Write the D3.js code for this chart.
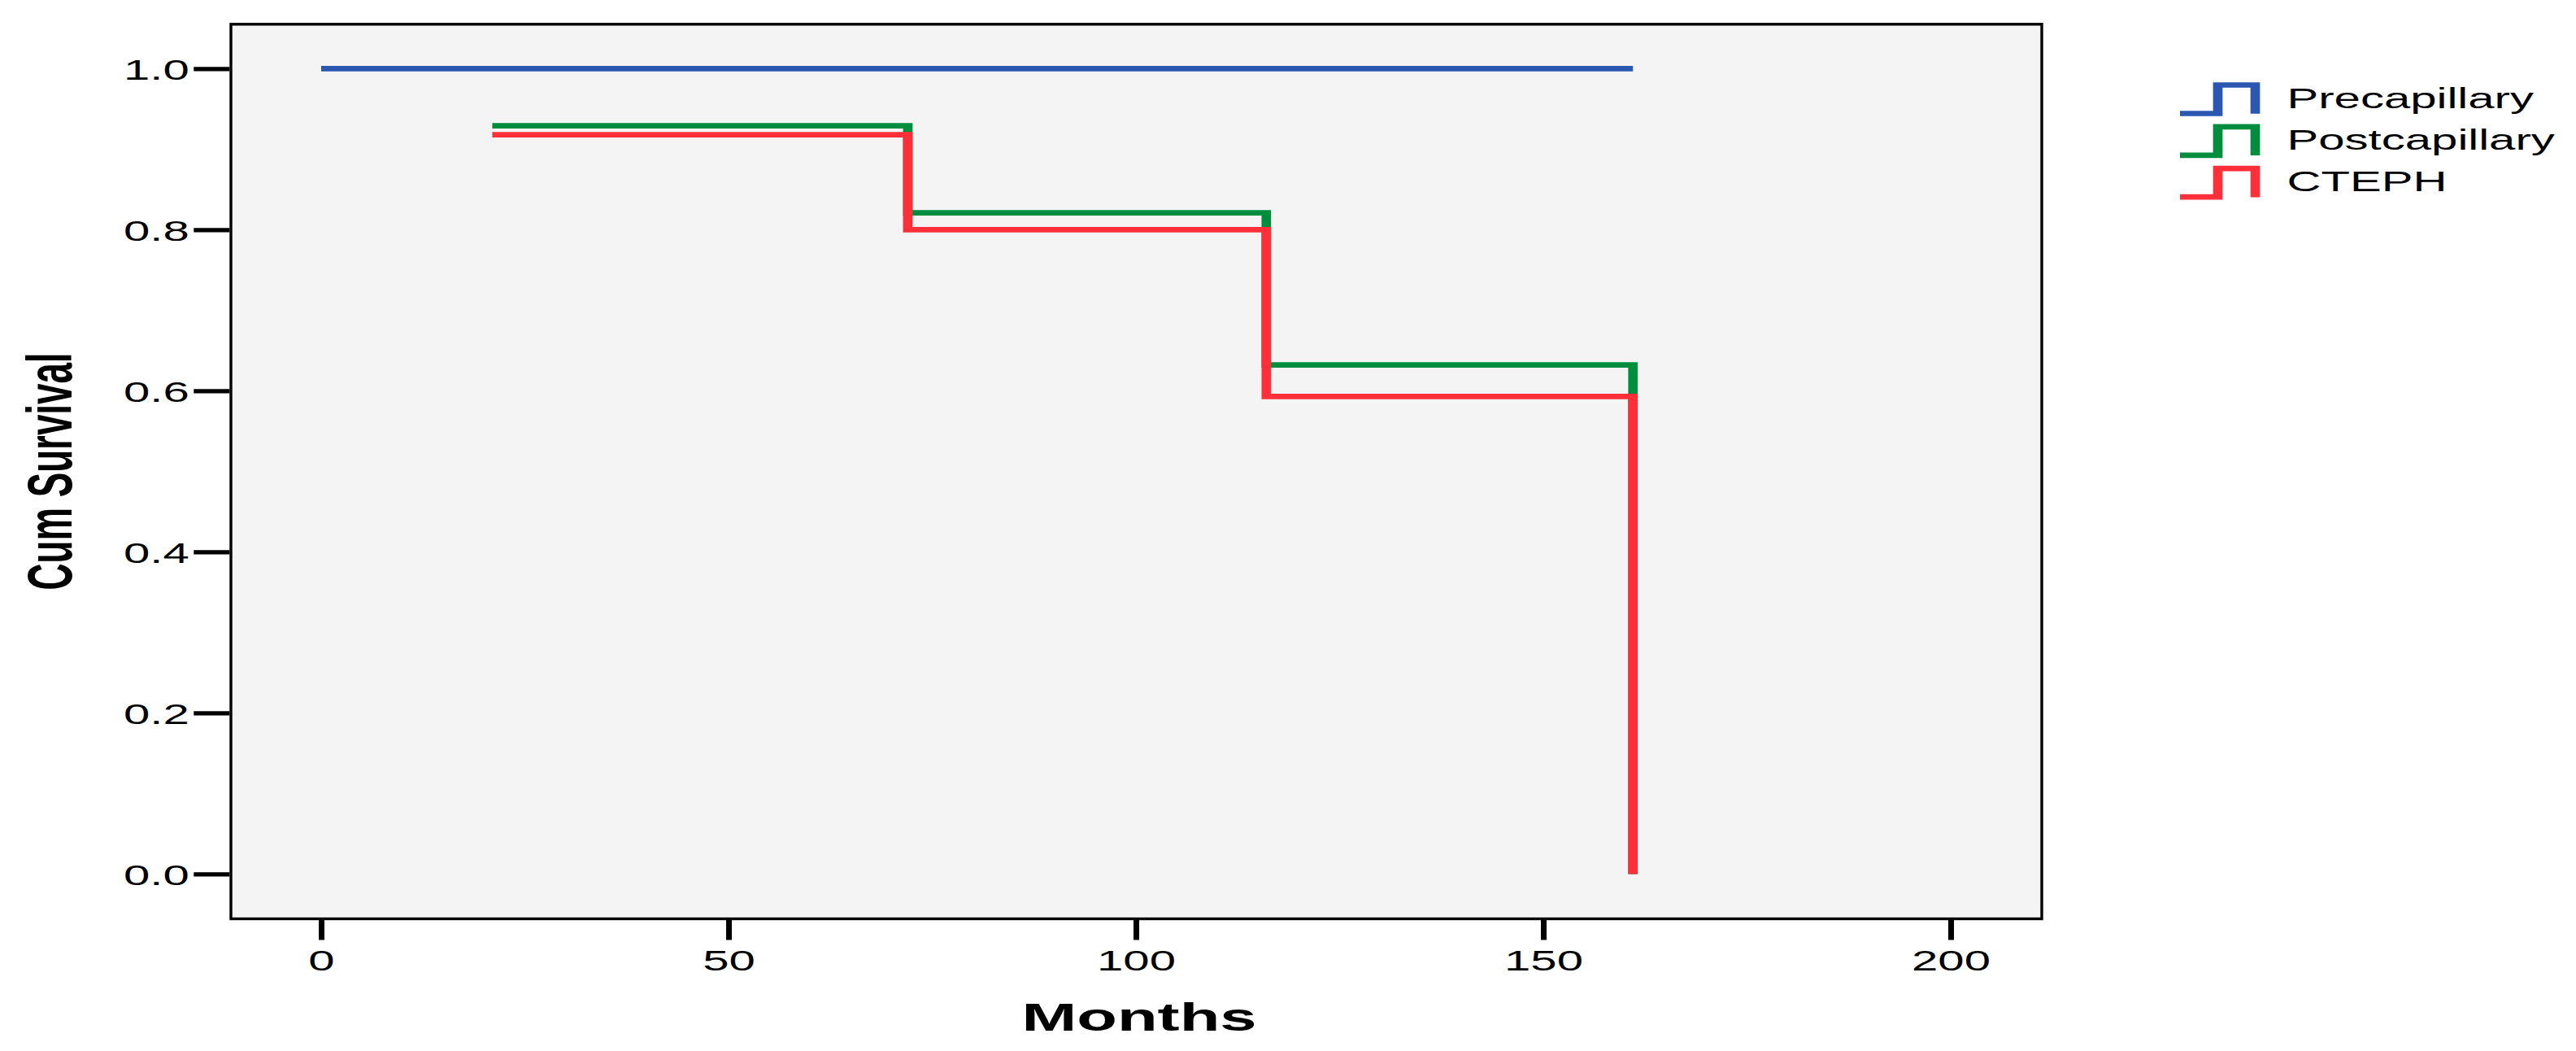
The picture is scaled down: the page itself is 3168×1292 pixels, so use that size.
<!DOCTYPE html>
<html>
<head>
<meta charset="utf-8">
<script src="https://cdn.jsdelivr.net/npm/d3@7"></script>
<style>
  html, body { margin: 0; padding: 0; background: #ffffff; }
  svg { display: block; }
  text { font-family: "Liberation Sans", Arial, Helvetica, sans-serif; fill: #000; }
</style>
</head>
<body>
<svg id="chart" width="3168" height="1292"></svg>
<script>
// ---------------- data ----------------
const groups = ["Precapillary", "Postcapillary", "CTEPH"];
const groupColors = ["#2B57B0", "#008E3E", "#FF2F3A"];

// step curves: time (months) of each point, survival from that time on
const precapTimes = [0, 161];
const precapSurv  = [1.0, 1.0];
const postTimes   = [21, 72, 116, 161];
const postSurv    = [0.929, 0.821, 0.632, 0.0];
const ctephTimes  = [21, 72, 116, 161];
const ctephSurv   = [0.918, 0.800, 0.593, 0.0];

const xTicks = [0, 50, 100, 150, 200];
const yTicks = [0.0, 0.2, 0.4, 0.6, 0.8, 1.0];
const xTitle = "Months";
const yTitle = "Cum Survival";

// ---------------- layout ----------------
const SX = 1.66;        // horizontal stretch of text
const SXL = 1.75;       // horizontal stretch of line strokes
const frame = { left: 282.3, right: 2512.7, top: 28.3, bottom: 1131 };
const fw = 3.4;

const svg = d3.select("#chart");
const x = d3.scaleLinear().domain([0, 200]).range([395, 2399]);
const y = d3.scaleLinear().domain([0, 1]).range([1074.4, 84.4]);

// plot background
svg.append("rect")
  .attr("x", frame.left).attr("y", frame.top)
  .attr("width", frame.right - frame.left).attr("height", frame.bottom - frame.top)
  .attr("fill", "#F4F4F4");

// y axis
const yAxis = svg.append("g")
  .attr("transform", `translate(${frame.left},0)`)
  .call(d3.axisLeft(y).tickValues(yTicks).tickSize(44).tickFormat(d3.format(".1f")));
yAxis.select(".domain").remove();
yAxis.selectAll(".tick line").attr("stroke", "#000").attr("stroke-width", 5.3);
yAxis.selectAll(".tick text")
  .attr("x", null).attr("dy", null)
  .attr("text-anchor", "end")
  .attr("font-size", 35)
  .attr("font-family", null)
  .attr("transform", `translate(-49.5,12.6) scale(${SX},1)`);

// x axis
const xAxis = svg.append("g")
  .attr("transform", `translate(0,${frame.bottom})`)
  .call(d3.axisBottom(x).tickValues(xTicks).tickSize(24.5).tickFormat(d3.format("d")));
xAxis.select(".domain").remove();
xAxis.selectAll(".tick line").attr("stroke", "#000").attr("stroke-width", 7);
xAxis.selectAll(".tick text")
  .attr("y", null).attr("dy", null)
  .attr("text-anchor", "middle")
  .attr("font-size", 35)
  .attr("font-family", null)
  .attr("transform", `translate(0,62) scale(${SX},1)`);

// survival curves (drawn in a horizontally stretched group so vertical strokes are wider)
const series = [
  { name: groups[0], times: precapTimes, surv: precapSurv, color: groupColors[0] },
  { name: groups[1], times: postTimes,   surv: postSurv,   color: groupColors[1] },
  { name: groups[2], times: ctephTimes,  surv: ctephSurv,  color: groupColors[2] }
];
const line = d3.line()
  .x(d => x(d.t) / SXL)
  .y(d => y(d.s))
  .curve(d3.curveStepAfter);
const curves = svg.append("g").attr("transform", `scale(${SXL},1)`);
series.forEach(s => {
  const pts = s.times.map((t, i) => ({ t: t, s: s.surv[i] }));
  curves.append("path")
    .attr("d", line(pts))
    .attr("fill", "none")
    .attr("stroke", s.color)
    .attr("stroke-width", 6.7)
    .attr("stroke-linejoin", "miter")
    .attr("stroke-linecap", "butt");
});

// frame
svg.append("rect")
  .attr("x", frame.left + fw / 2).attr("y", frame.top + 1.5)
  .attr("width", frame.right - frame.left - fw).attr("height", frame.bottom - frame.top - 3)
  .attr("fill", "none").attr("stroke", "#000").attr("stroke-width", fw);

// axis titles
svg.append("text")
  .attr("text-anchor", "middle")
  .attr("font-size", 49).attr("font-weight", "bold")
  .attr("transform", `translate(1401,1266.7) scale(${SX},1)`)
  .text(xTitle);

svg.append("text")
  .attr("text-anchor", "middle")
  .attr("font-size", 45.7).attr("font-weight", "bold")
  .attr("transform", `translate(88,579.5) scale(1.7,1) rotate(-90)`)
  .text(yTitle);

// legend
const legX = 2681, legY = 104.5, legStep = 51.3;
const legend = svg.append("g");
series.forEach((s, i) => {
  const oy = legY + i * legStep;
  const sym = d3.path();
  sym.moveTo(legX / SXL, oy + 35);
  sym.lineTo((legX + 46.5) / SXL, oy + 35);
  sym.lineTo((legX + 46.5) / SXL, oy);
  sym.lineTo((legX + 92.5) / SXL, oy);
  sym.lineTo((legX + 92.5) / SXL, oy + 35.3);
  legend.append("g").attr("transform", `scale(${SXL},1)`)
    .append("path")
    .attr("d", sym.toString())
    .attr("fill", "none")
    .attr("stroke", s.color)
    .attr("stroke-width", 6.7)
    .attr("stroke-linejoin", "miter");
  legend.append("text")
    .attr("font-size", 35)
    .attr("transform", `translate(2812.5,${oy + 28.2}) scale(${SX},1)`)
    .text(s.name);
});
</script>
</body>
</html>
